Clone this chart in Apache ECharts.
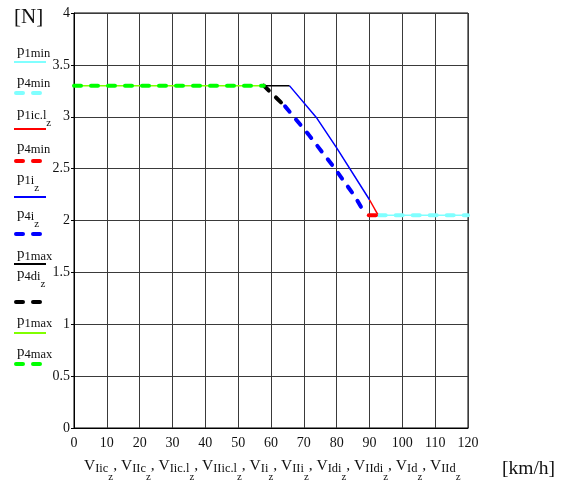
<!DOCTYPE html>
<html><head><meta charset="utf-8">
<script src="https://cdn.jsdelivr.net/npm/echarts@6/dist/echarts.min.js"></script>
<style>html,body{margin:0;padding:0;background:#fff}#c{width:561px;height:487px}</style>
</head><body><div id="c"></div>
<script>
// Force traces, speed [km/h] vs force [N]
const xMin = 0, xMax = 120, xStep = 10;
const yMin = 0, yMax = 4, yStep = 0.5;

const p1min   = [[92.8, 2.05], [120, 2.05]];
const p4minC  = [[92.8, 2.05], [120, 2.05]];
const p1icl   = [[90, 2.2], [92.5, 2.06]];
const p4minR  = [[89.8, 2.05], [92.8, 2.05]];
const p1i     = [[65.6, 3.3], [74, 2.985], [80, 2.70], [90, 2.2]];
const p4i     = [[64.3, 3.1], [71.4, 2.83], [79, 2.52], [85.6, 2.23], [88.7, 2.06]];
const p1maxK  = [[57.8, 3.3], [65.6, 3.3]];
const p4di    = [[57.8, 3.3], [64.3, 3.1]];
const p1maxG  = [[0, 3.3], [57.8, 3.3]];
const p4max   = [[0, 3.3], [57.8, 3.3]];

const xNameItems = ['Iic', 'IIc', 'Iic.l', 'IIic.l', 'Ii', 'IIi', 'Idi', 'IIdi', 'Id', 'IId'];

const FONT = '"Liberation Serif", "Times New Roman", serif';
const DASH = [7, 10];

// trace definitions: label parts [main, sub, subsub], colour, dashed, data
const traces = [
  { lab: ['p', '1min', ''],   color: '#80ffff', dashed: false, data: p1min },
  { lab: ['p', '4min', ''],   color: '#80ffff', dashed: true,  data: p4minC },
  { lab: ['p', '1ic.l', 'z'], color: '#ff0000', dashed: false, data: p1icl },
  { lab: ['p', '4min', ''],   color: '#ff0000', dashed: true,  data: p4minR },
  { lab: ['p', '1i', 'z'],    color: '#0000ff', dashed: false, data: p1i },
  { lab: ['p', '4i', 'z'],    color: '#0000ff', dashed: true,  data: p4i },
  { lab: ['p', '1max', ''],   color: '#000000', dashed: false, data: p1maxK },
  { lab: ['p', '4di', 'z'],   color: '#000000', dashed: true,  data: p4di },
  { lab: ['p', '1max', ''],   color: '#80ff00', dashed: false, data: p1maxG },
  { lab: ['p', '4max', ''],   color: '#00ff00', dashed: true,  data: p4max }
];
// legend rows: text centre y, sample line y
const legendRows = [[52, 62], [82, 93], [114, 129], [148, 161], [179, 197], [215, 234],
                    [255, 264], [275, 302], [322, 333], [353, 364]];

const mctx = document.createElement('canvas').getContext('2d');
function tw(s, size) { mctx.font = size + 'px ' + FONT; return mctx.measureText(s).width; }
function txt(x, y, s, size, color) {
  return { type: 'text', x: x, y: y, silent: true,
    style: { text: s, fontFamily: FONT, fontSize: size, fill: color || '#111',
             textAlign: 'left', textVerticalAlign: 'middle', verticalAlign: 'middle' } };
}

const graphics = [];
// legend
traces.forEach((t, i) => {
  const [ty, ly] = legendRows[i];
  let x = 17;
  graphics.push(txt(x, ty - 1, t.lab[0], 15)); x += tw(t.lab[0], 15);
  graphics.push(txt(x, ty + 2, t.lab[1], 12.5)); x += tw(t.lab[1], 12.5);
  if (t.lab[2]) graphics.push(txt(x, ty + 9, t.lab[2], 11));
  graphics.push({ type: 'line', silent: true,
    shape: t.dashed ? { x1: 16, y1: ly, x2: 44, y2: ly } : { x1: 14, y1: ly, x2: 46, y2: ly },
    style: { stroke: t.color, lineWidth: t.dashed ? 4 : 2, lineDash: t.dashed ? DASH : null,
             lineCap: t.dashed ? 'round' : 'butt' } });
});
// axis titles
graphics.push(txt(14, 17, '[N]', 21));
graphics.push(txt(502, 469, '[km/h]', 19.5));
(function () {
  const base = { v: 15, s: 12, z: 10.5 };
  const width = k => {
    let w = 0;
    xNameItems.forEach((s, i) => {
      w += tw('V', base.v * k) + tw(s, base.s * k) + tw('z', base.z * k);
      if (i < xNameItems.length - 1) w += tw(', ', base.v * k);
    });
    return w;
  };
  const k = 377 / width(1);
  const fv = base.v * k, fs = base.s * k, fz = base.z * k;
  let x = 84;
  xNameItems.forEach((s, i) => {
    graphics.push(txt(x, 466, 'V', fv)); x += tw('V', fv);
    graphics.push(txt(x, 469, s, fs)); x += tw(s, fs);
    graphics.push(txt(x, 477.5, 'z', fz)); x += tw('z', fz);
    if (i < xNameItems.length - 1) { graphics.push(txt(x, 466, ', ', fv)); x += tw(', ', fv); }
  });
})();

const chart = echarts.init(document.getElementById('c'), null, { renderer: 'canvas' });
chart.setOption({
  animation: false,
  backgroundColor: '#fff',
  grid: { left: 74, right: 93, top: 13, bottom: 59, show: true, borderColor: '#000', borderWidth: 1 },
  xAxis: {
    type: 'value', min: xMin, max: xMax, interval: xStep,
    axisLine: { show: true, lineStyle: { color: '#000', width: 1 } },
    axisTick: { show: false },
    axisLabel: { color: '#111', fontFamily: FONT, fontSize: 14, margin: 8 },
    splitLine: { show: true, lineStyle: { color: '#3a3a3a', width: 1 } }
  },
  yAxis: {
    type: 'value', min: yMin, max: yMax, interval: yStep,
    axisLine: { show: true, lineStyle: { color: '#000', width: 1 } },
    axisTick: { show: true, length: 3, lineStyle: { color: '#000' } },
    axisLabel: { color: '#111', fontFamily: FONT, fontSize: 14, margin: 4 },
    splitLine: { show: true, lineStyle: { color: '#3a3a3a', width: 1 } }
  },
  series: traces.map((t, i) => ({
    type: 'line', name: t.lab.join(''), data: t.data, symbol: 'none', z: 2 + i,
    lineStyle: { color: t.color, width: t.dashed ? 4 : 1.5, type: t.dashed ? DASH : 'solid',
                 cap: t.dashed ? 'round' : 'butt', join: 'round' }
  })),
  graphic: graphics
});
</script></body></html>
